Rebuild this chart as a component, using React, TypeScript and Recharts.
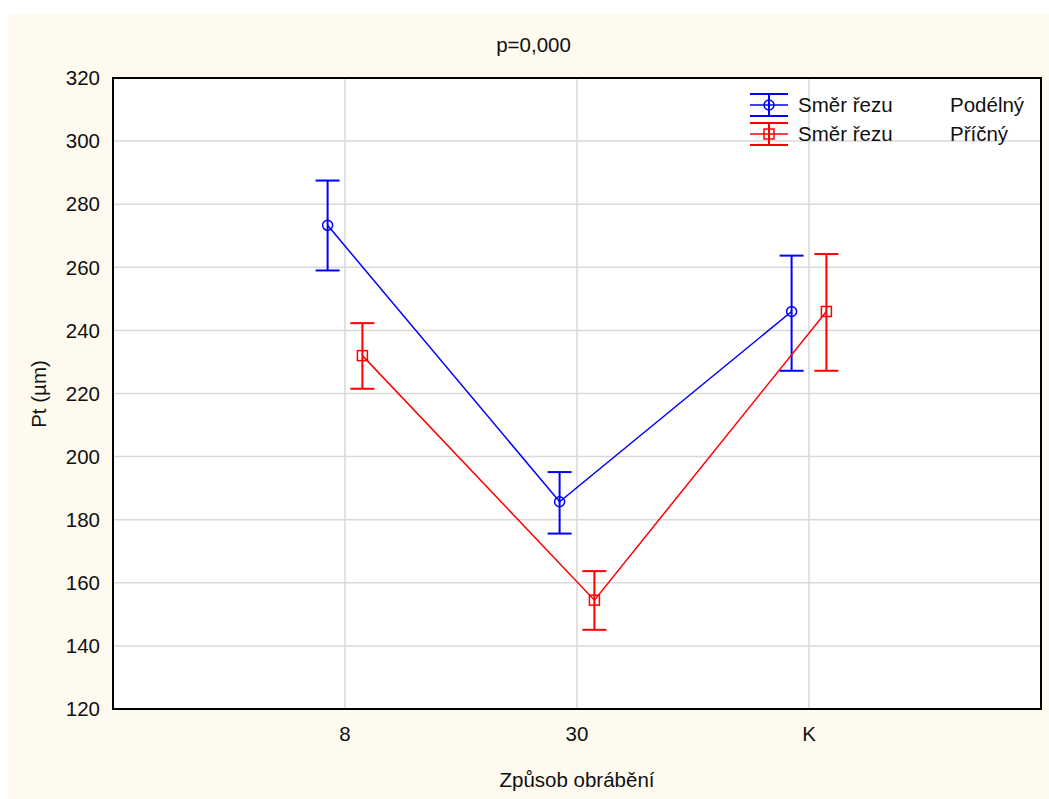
import {
  CartesianGrid,
  ComposedChart,
  ErrorBar,
  Line,
  ReferenceArea,
  XAxis,
  YAxis,
} from "recharts";

const kategorie = ["8", "30", "K"];

const podelnyPrumer = [273.3, 185.7, 246.0];
const podelnyDolni = [259.0, 175.6, 227.2];
const podelnyHorni = [287.5, 195.1, 263.7];

const pricnyPrumer = [232.0, 154.5, 246.0];
const pricnyDolni = [221.5, 145.1, 227.2];
const pricnyHorni = [242.3, 163.7, 264.2];

const yTicks = [120, 140, 160, 180, 200, 220, 240, 260, 280, 300, 320];

const MODRA = "#0000ff";
const CERVENA = "#ff0000";
const FONT = '"Liberation Sans", Arial, sans-serif';
const VELIKOST = 20.5;
const POSUN = 0.075;

const sestav = (prumer: number[], dolni: number[], horni: number[], posun: number) =>
  prumer.map((p, i) => ({
    x: i + 1 + posun,
    y: p,
    err: [p - dolni[i], horni[i] - p],
  }));

const podelnyData = sestav(podelnyPrumer, podelnyDolni, podelnyHorni, -POSUN);
const pricnyData = sestav(pricnyPrumer, pricnyDolni, pricnyHorni, POSUN);

function LegendIkona({ barva, ctverec }: { barva: string; ctverec?: boolean }) {
  return (
    <svg width={40} height={26} style={{ display: "block" }}>
      <line x1={1} x2={39} y1={2} y2={2} stroke={barva} strokeWidth={2} />
      <line x1={1} x2={39} y1={13} y2={13} stroke={barva} strokeWidth={1.5} />
      <line x1={1} x2={39} y1={24} y2={24} stroke={barva} strokeWidth={2} />
      <line x1={20} x2={20} y1={2} y2={24} stroke={barva} strokeWidth={2} />
      {ctverec ? (
        <rect x={15} y={8} width={10} height={10} fill="none" stroke={barva} strokeWidth={1.5} />
      ) : (
        <circle cx={20} cy={13} r={5} fill="none" stroke={barva} strokeWidth={1.5} />
      )}
    </svg>
  );
}

export default function App() {
  return (
    <div
      style={{
        position: "absolute",
        left: 8,
        top: 14,
        width: 1041,
        height: 785,
        background: "#fefaf0",
        fontFamily: FONT,
        color: "#111",
      }}
    >
      <ComposedChart
        width={1041}
        height={785}
        margin={{ top: 64, right: 8, bottom: 0, left: 0 }}
      >
        <CartesianGrid fill="#ffffff" stroke="#d9d9d9" strokeWidth={1.5} />
        <XAxis
          type="number"
          dataKey="x"
          domain={[0, 4]}
          ticks={[1, 2, 3]}
          tickFormatter={(v: number) => kategorie[v - 1] ?? ""}
          height={90}
          tickLine={false}
          axisLine={false}
          tickSize={0}
          tickMargin={17}
          tick={{ fill: "#111", fontSize: VELIKOST, fontFamily: FONT }}
        />
        <YAxis
          type="number"
          domain={[120, 320]}
          ticks={yTicks}
          width={105}
          tickLine={false}
          axisLine={false}
          tickSize={0}
          tickMargin={13}
          tick={{ fill: "#111", fontSize: VELIKOST, fontFamily: FONT }}
        />
        <ReferenceArea
          x1={0}
          x2={4}
          y1={120}
          y2={320}
          fill="none"
          stroke="#000"
          strokeWidth={2}
          fillOpacity={0}
        />
        <Line
          data={podelnyData}
          dataKey="y"
          stroke={MODRA}
          strokeWidth={1.5}
          isAnimationActive={false}
          dot={{ r: 5, fill: "none", stroke: MODRA, strokeWidth: 1.5 }}
          activeDot={false}
        >
          <ErrorBar dataKey="err" direction="y" width={12} stroke={MODRA} strokeWidth={2} />
        </Line>
        <Line
          data={pricnyData}
          dataKey="y"
          stroke={CERVENA}
          strokeWidth={1.5}
          isAnimationActive={false}
          activeDot={false}
          dot={(p: any) => (
            <rect
              key={`d-${p.index}`}
              x={p.cx - 5}
              y={p.cy - 5}
              width={10}
              height={10}
              fill="none"
              stroke={CERVENA}
              strokeWidth={1.5}
            />
          )}
        >
          <ErrorBar dataKey="err" direction="y" width={12} stroke={CERVENA} strokeWidth={2} />
        </Line>
      </ComposedChart>

      <div
        style={{
          position: "absolute",
          left: 0,
          width: 1051,
          top: 31,
          transform: "translateY(-50%)",
          textAlign: "center",
          fontSize: VELIKOST,
        }}
      >
        p=0,000
      </div>
      <div
        style={{
          position: "absolute",
          left: 105,
          width: 928,
          top: 766,
          transform: "translateY(-50%)",
          textAlign: "center",
          fontSize: VELIKOST,
          whiteSpace: "nowrap",
        }}
      >
        Způsob obrábění
      </div>
      <div
        style={{
          position: "absolute",
          left: 31,
          top: 380,
          transform: "translate(-50%, -50%) rotate(-90deg)",
          whiteSpace: "nowrap",
          fontSize: VELIKOST,
        }}
      >
        Pt (µm)
      </div>

      <div style={{ position: "absolute", left: 741, top: 76, fontSize: VELIKOST, width: 290 }}>
        {[
          { barva: MODRA, nazev: "Podélný", ctverec: false },
          { barva: CERVENA, nazev: "Příčný", ctverec: true },
        ].map((r) => (
          <div
            key={r.nazev}
            style={{ display: "flex", alignItems: "center", height: 29, position: "relative" }}
          >
            <LegendIkona barva={r.barva} ctverec={r.ctverec} />
            <span style={{ position: "absolute", left: 49, whiteSpace: "nowrap" }}>Směr řezu</span>
            <span style={{ position: "absolute", left: 201, whiteSpace: "nowrap" }}>{r.nazev}</span>
          </div>
        ))}
      </div>
    </div>
  );
}
